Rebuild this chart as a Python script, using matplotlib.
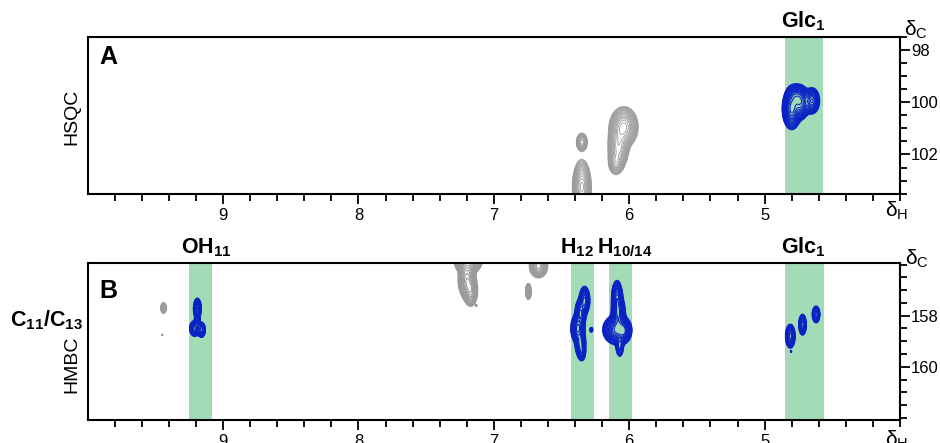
import numpy as np
import matplotlib.pyplot as plt

plt.rcParams["font.family"] = ["Liberation Sans", "DejaVu Sans"]
plt.rcParams["mathtext.fontset"] = "custom"
plt.rcParams["mathtext.rm"] = "Liberation Sans"
plt.rcParams["mathtext.it"] = "Liberation Sans:italic"
plt.rcParams["mathtext.bf"] = "Liberation Sans:bold"

# ---- peaks: dH, dC, half-width H, half-width C, height ----
# HSQC, glucose anomeric (blue)
hsqc_blue_h = [4.80, 4.73, 4.65, 4.77]
hsqc_blue_c = [100.25, 100.02, 99.95, 99.75]
hsqc_blue_wh = [0.03, 0.028, 0.025, 0.03]
hsqc_blue_wc = [0.34, 0.28, 0.22, 0.2]
hsqc_blue_a = [1.0, 0.8, 0.8, 0.5]

# HSQC, other cross peaks (grey)
hsqc_grey_h = [6.35, 6.35, 6.04, 6.08, 6.10]
hsqc_grey_c = [101.53, 103.25, 100.95, 101.7, 102.3]
hsqc_grey_wh = [0.02, 0.03, 0.045, 0.035, 0.025]
hsqc_grey_wc = [0.17, 0.45, 0.33, 0.4, 0.22]
hsqc_grey_a = [0.5, 1.0, 1.0, 0.7, 0.45]

# HMBC, correlations to C11/C13 (blue)
hmbc_blue_h = [9.19, 9.21, 9.16, 9.19,
               6.33, 6.36, 6.38, 6.36, 6.35, 6.28,
               6.09, 6.08, 6.09, 6.04, 6.07,
               4.81, 4.72, 4.62, 4.805]
hmbc_blue_c = [157.72, 158.5, 158.55, 158.2,
               157.4, 157.9, 158.5, 159.1, 159.45, 158.55,
               157.3, 157.9, 158.55, 158.6, 159.2,
               158.8, 158.35, 157.95, 159.4]
hmbc_blue_wh = [0.013, 0.017, 0.014, 0.01,
                0.018, 0.018, 0.022, 0.018, 0.013, 0.007,
                0.018, 0.022, 0.045, 0.022, 0.014,
                0.017, 0.014, 0.014, 0.004]
hmbc_blue_wc = [0.18, 0.14, 0.14, 0.14,
                0.25, 0.25, 0.25, 0.25, 0.15, 0.06,
                0.3, 0.3, 0.25, 0.2, 0.2,
                0.22, 0.2, 0.16, 0.03]
hmbc_blue_a = [0.8, 0.7, 0.6, 0.4,
               0.7, 0.8, 1.0, 0.7, 0.4, 0.2,
               0.8, 0.9, 1.0, 0.6, 0.4,
               0.6, 0.5, 0.5, 0.1]

# HMBC, other correlations (grey)
hmbc_grey_h = [9.44, 9.45, 7.19, 7.20, 7.17, 7.13, 6.67, 6.745]
hmbc_grey_c = [157.7, 158.75, 155.9, 156.6, 157.05, 157.6, 156.05, 157.05]
hmbc_grey_wh = [0.01, 0.004, 0.045, 0.03, 0.024, 0.004, 0.032, 0.011]
hmbc_grey_wc = [0.1, 0.03, 0.2, 0.35, 0.28, 0.03, 0.22, 0.16]
hmbc_grey_a = [0.5, 0.1, 0.8, 0.6, 0.5, 0.1, 0.6, 0.4]

# highlighted columns and their labels
hsqc_bands = [(4.85, 4.57)]
hsqc_band_labels = ["Glc$_\\mathbf{1}$"]
hsqc_label_x = [4.71]
hmbc_bands = [(9.25, 9.08), (6.43, 6.26), (6.15, 5.98), (4.85, 4.565)]
hmbc_band_labels = ["OH$_\\mathbf{11}$", "H$_\\mathbf{12}$", "H$_\\mathbf{10/14}$", "Glc$_\\mathbf{1}$"]
hmbc_label_x = [9.125, 6.26, 6.235, 4.71]
hmbc_label_ha = ["center", "right", "left", "center"]

x_range = (10.0, 4.0)
hsqc_range = (103.5, 97.5)
hmbc_range = (162.08, 155.95)

BLUE = "#0a22c4"
GREY = "#9a9a9a"
GREEN = "#a3dbb7"


def field(X, Y, h, c, wh, wc, a):
    Z = np.zeros_like(X)
    for i in range(len(h)):
        Z += a[i] * np.exp(-0.5 * (((X - h[i]) / wh[i]) ** 2 + ((Y - c[i]) / wc[i]) ** 2))
    return Z


xs = np.linspace(4.0, 10.0, 3000)
levels = 0.06 * 1.2 ** np.arange(16)

fig = plt.figure(figsize=(9.4, 4.43), dpi=100)
W, H = 940.0, 443.0
axA = fig.add_axes([87.7 / W, 1 - 193.7 / H, 812.3 / W, 157.0 / H])
axB = fig.add_axes([87.7 / W, 1 - 420.0 / H, 812.3 / W, 156.7 / H])

for ax, yr in [(axA, hsqc_range), (axB, hmbc_range)]:
    ax.set_xlim(*x_range)
    ax.set_ylim(*yr)
    for s in ax.spines.values():
        s.set_linewidth(1.5)
    ax.yaxis.tick_right()
    ax.tick_params(axis="x", which="both", direction="out", width=1.3, labelsize=12, pad=3)
    ax.tick_params(axis="x", which="major", length=7)
    ax.tick_params(axis="x", which="minor", length=5)
    ax.tick_params(axis="y", which="both", direction="out", width=1.3, labelsize=12, pad=1)
    ax.tick_params(axis="y", which="major", length=7)
    ax.tick_params(axis="y", which="minor", length=5)
    ax.set_xticks([9, 8, 7, 6, 5])
    ax.set_xticks(np.arange(4.0, 10.0, 0.2), minor=True)
    ax.xaxis.set_major_formatter(plt.FormatStrFormatter("%d"))

axA.set_yticks([98, 100, 102])
axA.set_yticks(np.arange(97.5, 103.6, 0.5), minor=True)
axB.set_yticks([158, 160])
axB.set_yticks(np.arange(156.0, 162.1, 0.5), minor=True)

# panel A: HSQC
ysA = np.linspace(96.5, 104.5, 800)
XA, YA = np.meshgrid(xs, ysA)
for (x0, x1) in hsqc_bands:
    axA.axvspan(x0, x1, color=GREEN, lw=0, zorder=0)
axA.contour(XA, YA, field(XA, YA, hsqc_grey_h, hsqc_grey_c, hsqc_grey_wh, hsqc_grey_wc, hsqc_grey_a),
            levels=levels, colors=GREY, linewidths=0.6)
axA.contour(XA, YA, field(XA, YA, hsqc_blue_h, hsqc_blue_c, hsqc_blue_wh, hsqc_blue_wc, hsqc_blue_a),
            levels=levels, colors=BLUE, linewidths=0.8)
for lab, lx in zip(hsqc_band_labels, hsqc_label_x):
    axA.annotate(lab, xy=(lx, 1), xycoords=("data", "axes fraction"), xytext=(0, 3),
                 textcoords="offset points", ha="center", va="bottom", fontsize=15.5, fontweight="bold")

# panel B: HMBC
ysB = np.linspace(155.0, 163.0, 800)
XB, YB = np.meshgrid(xs, ysB)
for (x0, x1) in hmbc_bands:
    axB.axvspan(x0, x1, color=GREEN, lw=0, zorder=0)
axB.contour(XB, YB, field(XB, YB, hmbc_grey_h, hmbc_grey_c, hmbc_grey_wh, hmbc_grey_wc, hmbc_grey_a),
            levels=levels, colors=GREY, linewidths=0.8)
axB.contour(XB, YB, field(XB, YB, hmbc_blue_h, hmbc_blue_c, hmbc_blue_wh, hmbc_blue_wc, hmbc_blue_a),
            levels=levels, colors=BLUE, linewidths=0.8)
for lab, lx, ha in zip(hmbc_band_labels, hmbc_label_x, hmbc_label_ha):
    axB.annotate(lab, xy=(lx, 1), xycoords=("data", "axes fraction"), xytext=(0, 3),
                 textcoords="offset points", ha=ha, va="bottom", fontsize=15.5, fontweight="bold")

axA.text(0.025, 0.87, "A", transform=axA.transAxes, ha="center", va="center",
         fontsize=18, fontweight="bold")
axB.text(0.025, 0.823, "B", transform=axB.transAxes, ha="center", va="center",
         fontsize=18, fontweight="bold")

fig.text(72 / W, 1 - 117 / H, "HSQC", rotation=90, ha="center", va="center", fontsize=14)
fig.text(72 / W, 1 - 364 / H, "HMBC", rotation=90, ha="center", va="center", fontsize=14)
fig.text(46 / W, 1 - 320 / H, "C$_\\mathbf{11}$/C$_\\mathbf{13}$", ha="center", va="center",
         fontsize=15.5, fontweight="bold")

fig.text(916 / W, 1 - 30 / H, "δ$_\\mathrm{C}$", ha="center", va="center", fontsize=15)
fig.text(917 / W, 1 - 259 / H, "δ$_\\mathrm{C}$", ha="center", va="center", fontsize=15)
fig.text(897 / W, 1 - 211 / H, "δ$_\\mathrm{H}$", ha="center", va="center", fontsize=15)
fig.text(897 / W, 1 - 440 / H, "δ$_\\mathrm{H}$", ha="center", va="center", fontsize=15)

fig.savefig("out.png", dpi=100)
